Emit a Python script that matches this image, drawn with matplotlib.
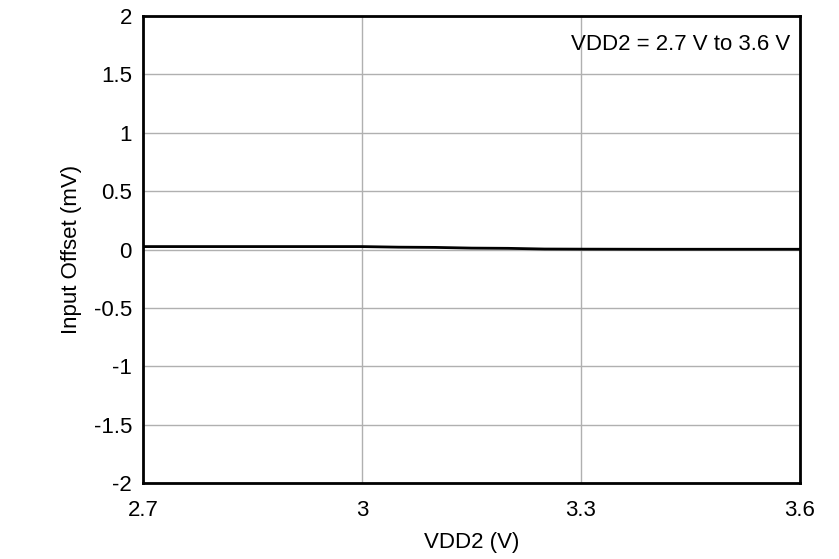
import matplotlib
matplotlib.use("Agg")
import matplotlib.pyplot as plt

plt.rcParams['font.family'] = ['Liberation Sans', 'DejaVu Sans']

vdd2 = [2.7, 2.8, 2.9, 3.0, 3.05, 3.1, 3.15, 3.2, 3.25, 3.3, 3.4, 3.5, 3.6]
offset = [0.025, 0.025, 0.025, 0.025, 0.02, 0.018, 0.012, 0.01, 0.004, 0.003, 0.002, 0.002, 0.002]

fig = plt.figure(figsize=(8.39, 5.59), dpi=100)
ax = fig.add_axes([143/839, 1-483/559, (800-143)/839, (483-16)/559])
ax.plot(vdd2, offset, color='black', lw=2)
ax.set_xlim(2.7, 3.6)
ax.set_ylim(-2, 2)
ax.set_xticks([2.7, 3.0, 3.3, 3.6])
ax.set_xticklabels(['2.7', '3', '3.3', '3.6'])
ax.set_yticks([-2, -1.5, -1, -0.5, 0, 0.5, 1, 1.5, 2])
ax.set_yticklabels(['-2', '-1.5', '-1', '-0.5', '0', '0.5', '1', '1.5', '2'])
ax.grid(True, color='#b0b0b0', lw=1)
ax.tick_params(labelsize=16, length=0, pad=8)
ax.tick_params(axis='x', pad=12)
for s in ax.spines.values():
    s.set_linewidth(2)
ax.set_xlabel('VDD2 (V)', fontsize=16, labelpad=8)
ax.set_ylabel('Input Offset (mV)', fontsize=16, labelpad=8)
ax.text(0.985, 0.94, 'VDD2 = 2.7 V to 3.6 V', transform=ax.transAxes,
        ha='right', va='center', fontsize=16)
fig.savefig('out.png', dpi=100)
